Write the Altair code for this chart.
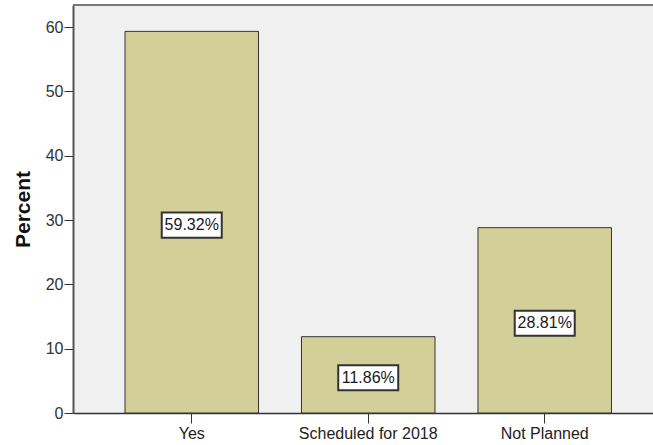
import altair as alt
import pandas as pd

categories = ["Yes", "Scheduled for 2018", "Not Planned"]
percents = [59.32, 11.86, 28.81]
labels = ["59.32%", "11.86%", "28.81%"]
y_ticks = [0, 10, 20, 30, 40, 50, 60]

df = pd.DataFrame({"cat": categories, "pct": percents, "label": labels})

W, H = 580, 408
FONT = "Liberation Sans"

xscale = alt.Scale(domain=categories, paddingInner=0.2436, paddingOuter=0.2649, align=0.556)
yscale = alt.Scale(domain=[0, 63.42], nice=False, zero=True)

x_enc = alt.X("cat:N", scale=xscale, sort=categories,
              axis=alt.Axis(title=None, labelAngle=0, labelFont=FONT, labelFontSize=16,
                            labelColor="#222222", tickSize=10, tickColor="#333333",
                            domainColor="#333333", domainWidth=1.5, labelPadding=2))

bars = alt.Chart(df).mark_bar(color="#d3cf98", stroke="#333333", strokeWidth=1).encode(
    x=x_enc,
    y=alt.Y("pct:Q", scale=yscale,
            axis=alt.Axis(values=y_ticks, title="Percent", grid=False, labelFont=FONT,
                          labelFontSize=16, labelColor="#333333", tickSize=9,
                          tickColor="#333333", domainColor="#555555", domainWidth=2,
                          labelPadding=1, titleFont=FONT, titleFontSize=21,
                          titleFontWeight="bold", titleColor="#111111",
                          titleAngle=-90, titleX=-50, titleY=H / 2,
                          titleAlign="center", titleBaseline="middle")),
)

boxes = alt.Chart(df).transform_calculate(
    lo="datum.pct / 2 - 2.4", hi="datum.pct / 2 + 1.5"
).mark_bar(size=60, color="white", stroke="#333333", strokeWidth=2).encode(
    x=alt.X("cat:N", scale=xscale, sort=categories),
    y=alt.Y("lo:Q", scale=yscale),
    y2="hi:Q",
)

texts = alt.Chart(df).transform_calculate(
    mid="datum.pct / 2"
).mark_text(font=FONT, fontSize=16, color="#1a1a1a", baseline="middle", dy=3).encode(
    x=alt.X("cat:N", scale=xscale, sort=categories),
    y=alt.Y("mid:Q", scale=yscale),
    text="label:N",
)

top_line = alt.Chart(df).mark_rule(color="#777777", strokeWidth=2).encode(
    x=alt.value(0), x2=alt.value(W), y=alt.value(0)
)

chart = alt.layer(bars, boxes, texts, top_line).properties(
    width=W, height=H,
    autosize=alt.AutoSizeParams(type="none"),
    padding={"left": 73, "top": 5, "right": 0, "bottom": 32},
    background="white",
).configure_view(fill="#f0f0f0", stroke=None)

chart.save("out.html", embed_options={"renderer": "svg", "actions": False})
